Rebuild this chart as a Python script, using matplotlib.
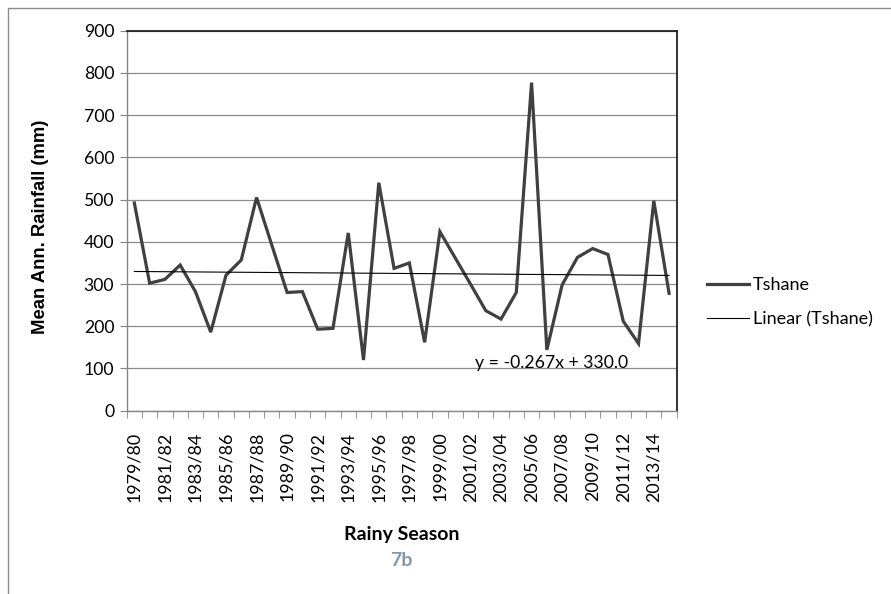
"""
Rainy season rainfall at Tshane with a linear trend line
"""

import numpy as np
import matplotlib.pyplot as plt
from matplotlib.patches import Rectangle

# data
seasons = [f"{y}/{str(y + 1)[-2:]}" for y in range(1979, 2015)]
rainfall = [
    492, 302, 311, 345, 282, 186, 321, 357, 505, 392,
    280, 282, 193, 195, 421, 120, 540, 337, 350, 162,
    424, 362, 300, 237, 217, 280, 777, 144, 298, 363,
    384, 370, 212, 159, 497, 278,
]
trend_slope = -0.267
trend_intercept = 330.0
y_ticks = list(range(0, 1000, 100))

tick_font = "Lato"

fig = plt.figure(figsize=(8.91, 5.94), dpi=100)
ax = fig.add_axes([0.1422, 0.3086, 0.6173, 0.6397])

x = np.arange(len(seasons))
trend = trend_slope * (x + 1) + trend_intercept

ax.plot(x, rainfall, color="#404040", lw=2.3, label="Tshane", zorder=3,
        solid_joinstyle="miter")
ax.plot(x, trend, color="black", lw=0.8, label="Linear (Tshane)", zorder=4)

# axes limits and grid
ax.set_xlim(-0.5, len(seasons) - 0.5)
ax.set_ylim(0, 900)
ax.set_yticks(y_ticks)
ax.yaxis.grid(True, color="#8c8c8c", lw=0.9)
ax.set_axisbelow(True)

# category labels on every other season, tick marks on the boundaries
ax.set_xticks(x[::2])
ax.set_xticklabels(seasons[::2], rotation=90, fontfamily=tick_font, fontsize=12.9)
ax.set_xticks(np.arange(-0.5, len(seasons)), minor=True)
ax.tick_params(axis="x", which="major", length=0, pad=15)
ax.tick_params(axis="x", which="minor", length=5, color="#868686", direction="out")
ax.tick_params(axis="y", length=5, color="#868686", direction="out", pad=4)
for lab in ax.get_yticklabels():
    lab.set_fontfamily(tick_font)
    lab.set_fontsize(12.7)

for side in ["left", "bottom"]:
    ax.spines[side].set_color("#868686")
    ax.spines[side].set_linewidth(1.0)
for side in ["top", "right"]:
    ax.spines[side].set_color("#222222")
    ax.spines[side].set_linewidth(1.3)

# axis titles
ax.set_ylabel("Mean Ann. Rainfall (mm)", fontfamily="Liberation Sans",
              fontweight="bold", fontsize=13.3)
ax.yaxis.set_label_coords(-0.141, 0.483)
fig.text(0.4506, 0.101, "Rainy Season", ha="center", va="center",
         fontfamily=tick_font, fontweight="bold", fontsize=14)
fig.text(0.4506, 0.0556, "7b", ha="center", va="center",
         fontfamily=tick_font, fontweight="bold", fontsize=14, color="#8497b0")

# trend equation
ax.text(27.3, 114, f"y = {trend_slope:.3f}x + {trend_intercept:.1f}",
        ha="center", va="center", fontfamily=tick_font, fontsize=12.7)

# legend
ax.legend(loc="center left", bbox_to_anchor=(1.0, 0.286), frameon=False,
          prop={"family": tick_font, "size": 13}, handlelength=2.3,
          handletextpad=0.2, labelspacing=1.0, borderaxespad=1.3)

# outer chart border
fig.patches.append(Rectangle((8 / 891, -0.1), 2, 1.1 - 8 / 594,
                             transform=fig.transFigure, fill=False,
                             edgecolor="#8c8c8c", lw=1.0))

fig.savefig("out.png", dpi=100)
